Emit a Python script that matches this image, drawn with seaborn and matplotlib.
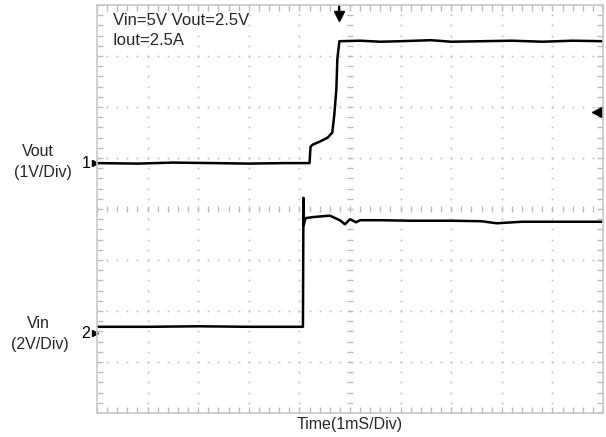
import numpy as np
import matplotlib
matplotlib.use("Agg")
import matplotlib.pyplot as plt
import seaborn as sns
import pandas as pd

# screen units: time in divisions (1 mS/div), amplitude in divisions from the bottom of the grid
vout_t = [0.0, 0.8, 1.5, 2.3, 3.0, 3.7, 4.20, 4.22, 4.26, 4.40, 4.56, 4.65, 4.69, 4.73, 4.75, 4.79,
          5.2, 5.6, 6.0, 6.6, 7.0, 7.6, 8.2, 8.8, 9.4, 10.0]
vout_div = [4.90, 4.89, 4.91, 4.90, 4.89, 4.90, 4.90, 5.22, 5.26, 5.32, 5.40, 5.50, 5.85, 6.34, 6.94, 7.29,
            7.30, 7.28, 7.29, 7.31, 7.28, 7.29, 7.30, 7.28, 7.30, 7.29]

vin_t = [0.0, 1.0, 2.0, 3.0, 4.07, 4.08, 4.085, 4.12, 4.25, 4.6, 4.80, 4.90, 5.00, 5.12, 5.2, 5.6,
         6.2, 7.0, 7.6, 7.9, 8.4, 9.0, 10.0]
vin_div = [1.69, 1.69, 1.70, 1.69, 1.69, 4.22, 3.68, 3.82, 3.84, 3.87, 3.78, 3.70, 3.80, 3.74, 3.78, 3.78,
           3.77, 3.77, 3.76, 3.72, 3.75, 3.75, 3.75]

vout_ref_div = 4.90   # channel 1 marker
vin_ref_div = 1.56    # channel 2 marker
trig_t = 4.78
trig_level_div = 5.9

sns.set_theme(style="white")
plt.rcParams['font.family'] = ['Liberation Sans', 'DejaVu Sans']

fig = plt.figure(figsize=(6.06, 4.37), dpi=100)
ax = fig.add_axes([97 / 606, 1 - 413 / 437, 506 / 606, 408 / 437])
ax.set_xlim(0, 10)
ax.set_ylim(0, 8)
ax.set_xticks([])
ax.set_yticks([])
for s in ax.spines.values():
    s.set_color("#c8c8c8")
    s.set_linewidth(1.2)

gcol = "#bcbcbc"
fine = np.arange(0, 10.01, 0.2)
fine_y = np.arange(0, 8.01, 0.2)
# dotted graticule
for k in range(1, 10):
    if k == 5:
        continue
    ax.plot(np.full_like(fine_y, k), fine_y, ls="none", marker="s", ms=1.2, color=gcol, mew=0)
for k in range(1, 8):
    if k == 4:
        continue
    ax.plot(fine, np.full_like(fine, k), ls="none", marker="s", ms=1.2, color=gcol, mew=0)
# centre lines with ticks
ax.plot(np.full_like(fine_y, 5), fine_y, ls="none", marker="_", ms=5, color=gcol, mew=1)
ax.plot(fine, np.full_like(fine, 4), ls="none", marker="|", ms=5, color=gcol, mew=1)
# edge ticks
ax.plot(fine, np.full_like(fine, 0.05), ls="none", marker="|", ms=5, color=gcol, mew=1)
ax.plot(fine, np.full_like(fine, 7.95), ls="none", marker="|", ms=5, color=gcol, mew=1)
ax.plot(np.full_like(fine_y, 0.05), fine_y, ls="none", marker="_", ms=5, color=gcol, mew=1)
ax.plot(np.full_like(fine_y, 9.95), fine_y, ls="none", marker="_", ms=5, color=gcol, mew=1)

df_out = pd.DataFrame({"t": vout_t, "v": vout_div})
df_in = pd.DataFrame({"t": vin_t, "v": vin_div})
sns.lineplot(data=df_out, x="t", y="v", ax=ax, color="black", lw=1.8, estimator=None, sort=False)
sns.lineplot(data=df_in, x="t", y="v", ax=ax, color="black", lw=1.8, estimator=None, sort=False)
ax.set_xlabel("")
ax.set_ylabel("")

# trigger markers
ax.plot([trig_t], [7.78], marker="v", ms=7, color="black", clip_on=False)
ax.plot([trig_t, trig_t], [7.85, 8.0], color="black", lw=1.5)
ax.plot([9.88], [trig_level_div], marker="<", ms=7, color="black", clip_on=False)
ax.plot([9.9, 10.0], [trig_level_div, trig_level_div], color="black", lw=1.5)

# channel markers
ax.plot([-0.04], [vout_ref_div], marker=">", ms=5, color="black", clip_on=False)
ax.plot([-0.04], [vin_ref_div], marker=">", ms=5, color="black", clip_on=False)
ax.text(-0.13, vout_ref_div, "1", ha="right", va="center", fontsize=11.5, color="black")
ax.text(-0.13, vin_ref_div, "2", ha="right", va="center", fontsize=11.5, color="black")

fig.text(38 / 606, 1 - 152 / 437, "Vout", ha="center", va="center", fontsize=11.5)
fig.text(43 / 606, 1 - 173 / 437, "(1V/Div)", ha="center", va="center", fontsize=11.5)
fig.text(38 / 606, 1 - 323 / 437, "Vin", ha="center", va="center", fontsize=11.5)
fig.text(40 / 606, 1 - 345 / 437, "(2V/Div)", ha="center", va="center", fontsize=11.5)

ax.text(0.31, 7.7, "Vin=5V Vout=2.5V", ha="left", va="center", fontsize=12)
ax.text(0.31, 7.3, "Iout=2.5A", ha="left", va="center", fontsize=12)

fig.text(350 / 606, 1 - 424 / 437, "Time(1mS/Div)", ha="center", va="center", fontsize=11.5)

fig.savefig("out.png", dpi=100)
